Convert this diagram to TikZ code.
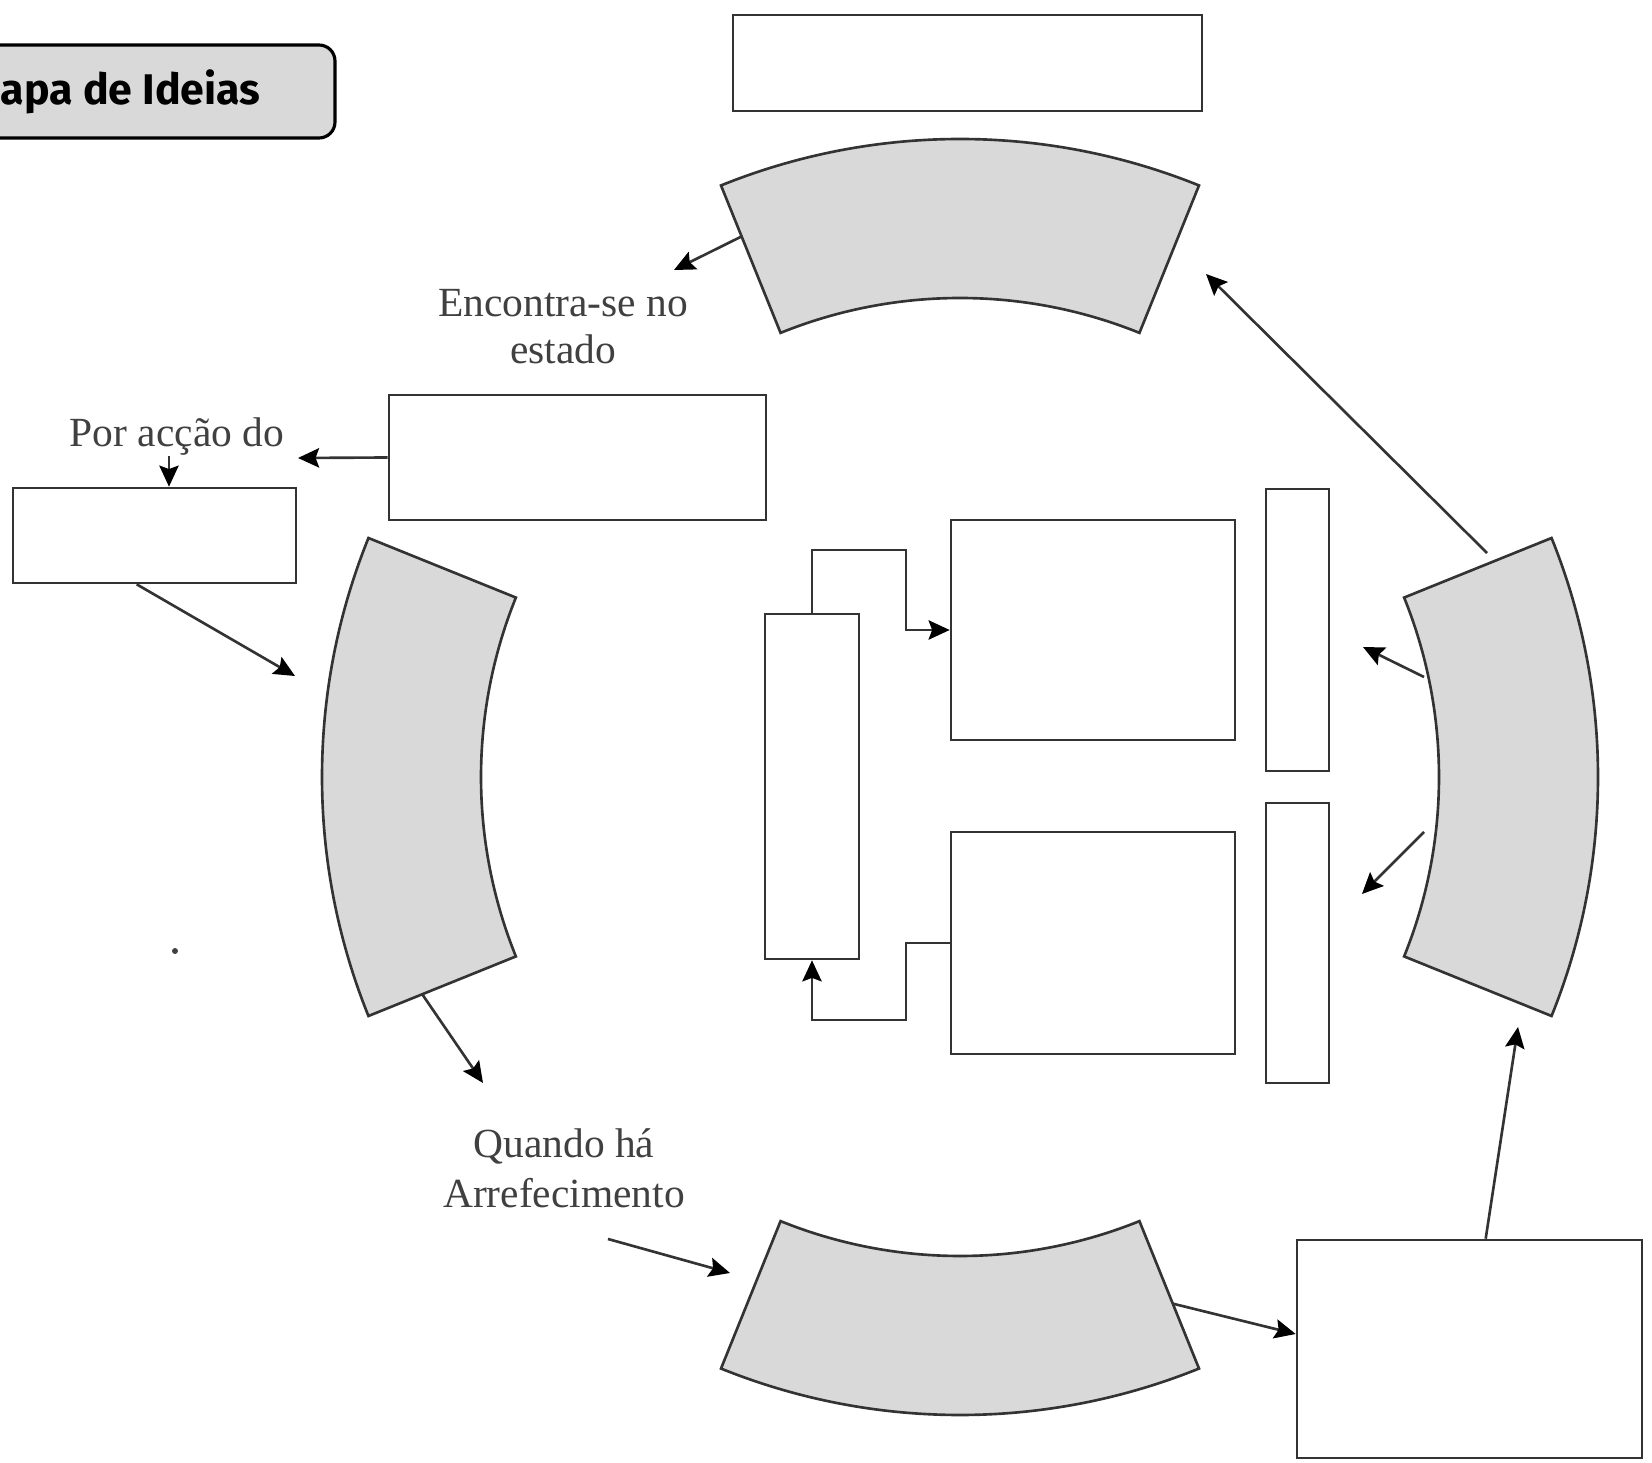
\documentclass[tikz,border=0pt]{standalone}
\usepackage{fontspec}
\setmainfont{Liberation Serif}
\newfontfamily\titlefont{Fira Sans}
\usepackage{tikz}
\usetikzlibrary{arrows.meta,calc}
\definecolor{myline}{gray}{0.2}
\definecolor{myfill}{gray}{0.85}
\definecolor{mytext}{gray}{0.25}

\begin{document}
\begin{tikzpicture}[x=0.1mm,y=-0.1mm,
    box/.style={draw=myline,line width=0.75pt,fill=white,inner sep=0pt},
    sector/.style={draw=myline,line width=0.75pt,fill=myfill},
    arr/.style={-{Stealth[length=6pt,width=5.5pt,inset=1pt,color=black]},line width=0.75pt,draw=myline},
    lbl/.style={text=mytext,align=center,inner sep=0pt,font=\fontsize{11.8}{13.3}\selectfont}]
    \useasboundingbox (0,0) rectangle (1652,1463);

    % title
    \draw[line width=0.9pt,fill=myfill,rounded corners=1.6mm] (-30,45) rectangle (335,138);
    \node[anchor=base west,inner sep=0pt,font=\titlefont\bfseries\fontsize{12.2}{14}\selectfont] (title) at (0,105) {apa de Ideias};

    % the four ring pieces
    \begin{scope}[shift={(960,777)}]
        \foreach \a in {0,90,180,270}
            \draw[sector] (\a-22:638) arc[start angle=\a-22,end angle=\a+22,radius=638]
                -- (\a+22:479) arc[start angle=\a+22,end angle=\a-22,radius=479] -- cycle;
        \coordinate (topL) at (248:583);
        \coordinate (leftB) at (158:580);
        \coordinate (botR) at (68:568);
    \end{scope}

    % boxes
    \node[box,minimum width=46.9mm,minimum height=9.6mm] (topbox) at (967.5,63) {};
    \node[box,minimum width=37.7mm,minimum height=12.5mm] (agentbox) at (577.5,457.5) {};
    \node[box,minimum width=28.3mm,minimum height=9.5mm] (sourcebox) at (154.5,535.5) {};
    \node[box,minimum width=34.5mm,minimum height=21.8mm] (outbox) at (1469.5,1349) {};
    \node[box,minimum width=9.4mm,minimum height=34.5mm] (col) at (812,786.5) {};
    \node[box,minimum width=28.4mm,minimum height=22mm] (upper) at (1093,630) {};
    \node[box,minimum width=28.4mm,minimum height=22.2mm] (lower) at (1093,943) {};
    \node[box,minimum width=6.3mm,minimum height=28.2mm] (upbar) at (1297.5,630) {};
    \node[box,minimum width=6.3mm,minimum height=28mm] (lowbar) at (1297.5,943) {};

    % labels
    \node[lbl] (estado) at (563,327) {Encontra-se no\\estado};
    \node[lbl,anchor=base] (agent) at (177,447) {Por acção do};
    \node[lbl,font=\fontsize{11.8}{14.2}\selectfont] (cool) at (564,1168) {Quando há\\Arrefecimento};
    \fill[mytext] (175,951) circle (3);

    % free ends
    \coordinate (tipState) at (674,270);
    \coordinate (tipAgent) at (298,458);
    \coordinate (p) at (169,456);
    \coordinate (tipLeft) at (295,676);
    \coordinate (tipCool) at (483,1083);
    \coordinate (coolStart) at (608,1239);
    \coordinate (tipBottom) at (730,1273);
    \coordinate (tipRight) at (1518,1027);
    \coordinate (riseStart) at (1487,553);
    \coordinate (tipTop) at (1206,274);
    \coordinate (outA) at (1424,677);
    \coordinate (tipA) at (1363,647);
    \coordinate (outB) at (1424,832);
    \coordinate (tipB) at (1362,894);
    \coordinate (jog1) at (906,550);
    \coordinate (jog2) at (906,1020);

    % arrows
    \draw[arr] (topL) -- (tipState);
    \draw[arr] (agentbox.west) -- (tipAgent);
    \draw[arr] (p) -- (p |- sourcebox.north);
    \draw[arr] ($(sourcebox.south west)+(125,0)$) -- (tipLeft);
    \draw[arr] (leftB) -- (tipCool);
    \draw[arr] (coolStart) -- (tipBottom);
    \draw[arr] (botR) -- ($(outbox.west)+(0,-15)$);
    \draw[arr] ($(outbox.north west)+(190,0)$) -- (tipRight);
    \draw[arr] (riseStart) -- (tipTop);
    \draw[arr] (outA) -- (tipA);
    \draw[arr] (outB) -- (tipB);
    \draw[arr] (col.north) |- (jog1) |- (upper.west);
    \draw[arr] (lower.west) -| (jog2) -| (col.south);
\end{tikzpicture}
\end{document}
